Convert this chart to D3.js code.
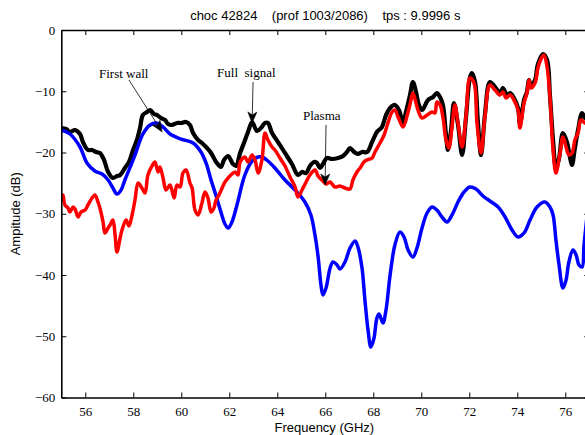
<!DOCTYPE html>
<html>
<head>
<meta charset="utf-8">
<script src="https://cdn.jsdelivr.net/npm/d3@7"></script>
<style>
  html, body { margin: 0; padding: 0; background: #fff; }
  svg { display: block; }
  .sans { font-family: "Liberation Sans", Arial, Helvetica, sans-serif; font-size: 13px; fill: #000; }
  .serif { font-family: "Liberation Serif", "Times New Roman", serif; font-size: 13px; fill: #000; }
</style>
</head>
<body>
<svg id="chart" width="585" height="435"></svg>
<script>
// Tick values
const freqTicks = [56, 58, 60, 62, 64, 66, 68, 70, 72, 74, 76];
const ampTicks = [0, -10, -20, -30, -40, -50, -60];

// First wall reflection (GHz, dB)
const wallFreq = [55.00,55.36,55.78,56.07,56.40,56.70,56.95,57.15,57.32,57.49,57.65,58.07,58.40,58.70,58.95,59.24,59.53,59.99,60.49,60.82,61.03,61.24,61.45,61.65,61.82,61.95,62.11,62.32,62.65,62.95,63.20,63.36,63.61,63.90,64.32,64.74,65.15,65.40,65.57,65.70,65.82,65.90,66.03,66.20,66.32,66.49,66.61,66.82,67.03,67.24,67.36,67.53,67.65,67.78,67.90,68.03,68.15,68.24,68.40,68.53,68.70,68.90,69.11,69.28,69.45,69.65,69.82,70.03,70.24,70.45,70.65,70.86,71.07,71.28,71.53,71.78,72.03,72.28,72.57,72.86,73.20,73.49,73.78,74.03,74.28,74.53,74.82,75.15,75.36,75.49,75.61,75.74,75.90,76.03,76.15,76.32,76.45,76.57,76.70,76.78,76.91];
const wallAmp = [-16.33,-16.98,-19.10,-21.71,-23.02,-23.51,-24.49,-25.80,-26.78,-26.12,-24.49,-20.41,-16.98,-15.51,-15.18,-15.84,-16.98,-17.80,-18.45,-19.92,-21.71,-24.49,-27.10,-29.71,-31.67,-32.33,-31.35,-28.57,-23.67,-21.39,-20.73,-20.73,-21.39,-22.53,-24.49,-26.12,-28.08,-30.20,-33.47,-37.00,-41.63,-43.27,-42.12,-38.86,-37.88,-38.37,-39.02,-37.88,-35.59,-34.45,-35.43,-38.86,-44.08,-48.98,-51.76,-50.29,-47.02,-46.37,-47.84,-45.71,-40.00,-35.10,-32.98,-33.80,-35.92,-37.06,-35.59,-32.33,-29.88,-28.90,-29.39,-30.53,-31.35,-30.20,-28.08,-26.45,-25.63,-25.96,-27.10,-27.92,-28.90,-30.53,-32.65,-33.80,-33.14,-31.02,-28.90,-28.08,-28.90,-30.20,-34.29,-38.37,-42.12,-40.82,-37.88,-35.92,-36.73,-38.37,-38.69,-35.10,-30.20];

// Full signal (GHz, dB)
const fullFreq = [55.00,55.20,55.36,55.57,55.78,55.90,56.11,56.28,56.45,56.61,56.78,56.95,57.15,57.32,57.45,57.65,57.82,57.99,58.15,58.28,58.40,58.57,58.70,58.86,58.99,59.15,59.32,59.45,59.61,59.82,59.99,60.20,60.36,60.49,60.70,60.86,61.07,61.24,61.45,61.65,61.78,61.95,62.15,62.28,62.45,62.61,62.78,62.95,63.15,63.32,63.49,63.61,63.78,64.03,64.32,64.61,64.86,65.03,65.20,65.36,65.53,65.65,65.78,65.90,66.07,66.28,66.53,66.74,66.90,67.03,67.20,67.36,67.53,67.74,67.95,68.15,68.36,68.53,68.70,68.90,69.07,69.24,69.36,69.53,69.65,69.78,69.90,70.03,70.28,70.49,70.65,70.78,70.90,71.03,71.11,71.24,71.36,71.53,71.70,71.86,72.03,72.11,72.24,72.36,72.49,72.65,72.86,73.07,73.28,73.40,73.57,73.70,73.86,74.03,74.11,74.28,74.40,74.49,74.57,74.74,74.86,75.07,75.24,75.36,75.49,75.61,75.74,75.90,76.07,76.20,76.28,76.40,76.53,76.70,76.82,76.95];
const fullAmp = [-16.00,-16.16,-16.65,-16.33,-16.98,-18.29,-19.59,-19.59,-19.92,-20.08,-21.22,-23.18,-24.16,-23.84,-23.67,-22.53,-21.55,-19.59,-17.96,-16.00,-13.88,-13.39,-13.06,-13.71,-13.88,-14.37,-14.69,-15.35,-15.51,-15.18,-15.18,-15.02,-15.51,-16.82,-17.96,-18.45,-19.27,-20.08,-21.55,-22.37,-21.22,-20.57,-21.88,-22.20,-20.08,-18.45,-16.65,-15.02,-16.49,-16.00,-15.18,-15.18,-16.82,-18.29,-20.08,-21.88,-23.67,-23.18,-23.35,-22.20,-21.55,-21.71,-22.53,-21.88,-20.90,-21.06,-20.90,-20.57,-19.92,-19.27,-19.92,-20.24,-19.92,-19.92,-18.29,-16.65,-15.84,-13.88,-12.73,-12.24,-13.06,-15.18,-13.39,-10.61,-8.49,-10.12,-12.24,-13.06,-11.43,-10.94,-10.29,-10.94,-12.24,-17.14,-19.59,-16.33,-11.92,-15.51,-20.41,-14.37,-7.67,-7.02,-8.49,-15.02,-20.41,-13.88,-8.49,-9.31,-10.29,-9.47,-10.61,-10.29,-11.10,-12.73,-15.35,-11.43,-10.12,-8.16,-9.14,-8.16,-5.55,-3.92,-4.90,-10.61,-17.96,-22.53,-20.90,-16.82,-18.29,-20.90,-22.04,-19.27,-16.33,-13.55,-14.37,-14.04];

// Plasma contribution (GHz, dB)
const plasmaFreq = [55.00,55.07,55.15,55.28,55.36,55.49,55.57,55.70,55.82,55.99,56.11,56.28,56.40,56.53,56.65,56.74,56.82,56.95,57.03,57.15,57.24,57.32,57.45,57.53,57.70,57.82,57.95,58.07,58.20,58.36,58.49,58.61,58.78,58.90,59.03,59.11,59.24,59.36,59.53,59.70,59.82,59.95,60.07,60.20,60.36,60.45,60.57,60.70,60.86,60.99,61.11,61.24,61.36,61.45,61.57,61.70,61.82,61.95,62.07,62.24,62.36,62.45,62.65,62.78,62.95,63.07,63.20,63.36,63.49,63.61,63.78,63.90,64.11,64.32,64.53,64.74,64.86,65.03,65.20,65.36,65.57,65.70,65.86,66.03,66.20,66.40,66.61,66.82,67.03,67.15,67.32,67.45,67.61,67.74,67.95,68.07,68.28,68.45,68.61,68.78,68.90,69.03,69.24,69.45,69.57,69.65,69.78,69.86,70.03,70.24,70.45,70.57,70.65,70.78,70.90,71.03,71.15,71.28,71.40,71.53,71.70,71.86,72.03,72.20,72.32,72.49,72.65,72.86,73.07,73.28,73.40,73.53,73.70,73.86,74.03,74.11,74.28,74.40,74.49,74.57,74.74,74.86,75.03,75.11,75.24,75.36,75.49,75.61,75.78,75.90,76.03,76.15,76.28,76.40,76.53,76.65,76.82,76.95];
const plasmaAmp = [-27.76,-26.94,-28.57,-29.06,-29.71,-28.90,-29.22,-30.53,-29.71,-29.39,-28.57,-27.43,-26.94,-28.08,-29.71,-31.35,-33.14,-32.33,-31.84,-31.02,-33.47,-36.24,-33.96,-32.65,-31.02,-32.00,-30.20,-27.76,-24.98,-25.80,-26.61,-23.67,-22.20,-21.55,-23.18,-22.37,-24.16,-26.12,-25.31,-27.43,-25.31,-25.63,-23.35,-22.86,-24.98,-25.80,-29.39,-30.20,-28.24,-26.45,-27.43,-29.71,-29.06,-27.76,-26.94,-25.80,-24.82,-24.16,-23.67,-23.18,-23.67,-21.55,-20.73,-21.55,-20.41,-21.22,-23.35,-21.22,-16.82,-17.96,-19.10,-19.59,-20.90,-22.20,-24.00,-25.63,-27.27,-26.12,-24.82,-23.67,-22.86,-23.84,-24.49,-25.14,-24.82,-25.63,-25.47,-25.80,-25.96,-24.49,-23.18,-22.53,-21.55,-21.22,-20.90,-19.92,-18.45,-17.14,-15.18,-13.39,-13.06,-14.20,-15.84,-13.39,-11.43,-10.29,-11.92,-13.06,-14.37,-13.88,-13.39,-13.55,-11.76,-12.24,-14.20,-17.96,-19.27,-15.84,-12.24,-15.18,-19.10,-14.20,-7.84,-8.65,-15.18,-20.08,-14.20,-8.98,-9.80,-10.61,-10.12,-11.10,-10.61,-11.43,-13.06,-16.00,-11.92,-10.29,-8.16,-9.47,-8.65,-6.20,-4.41,-4.08,-6.04,-10.94,-19.59,-23.35,-20.08,-17.47,-19.10,-20.41,-20.08,-17.96,-16.82,-14.69,-15.18,-15.51];

// Annotations: label, text anchor point, arrow start and arrow tip (GHz, dB)
const noteLabels = ["First wall", "Full  signal", "Plasma"];
const noteText = [[56.57, -7.84], [61.49, -7.67], [65.07, -14.69]];
const noteFrom = [[57.82, -8.16], [62.99, -8.49], [66.03, -15.51]];
const noteTo = [[59.20, -16.65], [62.95, -15.18], [65.99, -25.31]];

const titleText = "choc 42824    (prof 1003/2086)    tps : 9.9996 s";

const svg = d3.select("#chart");
const margin = { left: 61.3, top: 30, right: 589.3, bottom: 397.5 };

const x = d3.scaleLinear().domain([55, 77]).range([margin.left, margin.right]);
const y = d3.scaleLinear().domain([-60, 0]).range([margin.bottom, margin.top]);

svg.append("rect").attr("width", 585).attr("height", 435).attr("fill", "#fff");

// Curves, clipped to the axes box
svg.append("defs").append("clipPath").attr("id", "plotclip")
  .append("rect")
  .attr("x", margin.left).attr("y", margin.top)
  .attr("width", margin.right - margin.left).attr("height", margin.bottom - margin.top);

const plot = svg.append("g").attr("clip-path", "url(#plotclip)");

function drawSeries(fx, fy, color, width) {
  const pts = fx.map((f, i) => [f, fy[i]]);
  const line = d3.line().x(d => x(d[0])).y(d => y(d[1])).curve(d3.curveCatmullRom.alpha(0.5));
  plot.append("path")
    .attr("d", line(pts))
    .attr("fill", "none")
    .attr("stroke", color)
    .attr("stroke-width", width)
    .attr("stroke-linejoin", "round")
    .attr("stroke-linecap", "round");
}

drawSeries(fullFreq, fullAmp, "#000", 4.2);
drawSeries(wallFreq, wallAmp, "#0000ff", 3.5);
drawSeries(plasmaFreq, plasmaAmp, "#ff0000", 3.5);

// Axes with inward ticks on all four sides
const fmt = d => (d < 0 ? "\u2212" + Math.abs(d) : String(d));

const gBottom = svg.append("g").attr("transform", `translate(0,${margin.bottom})`)
  .call(d3.axisBottom(x).tickValues(freqTicks).tickSizeInner(-5).tickSizeOuter(0).tickPadding(9).tickFormat(fmt));
const gTop = svg.append("g").attr("transform", `translate(0,${margin.top})`)
  .call(d3.axisTop(x).tickValues(freqTicks).tickSizeInner(-5).tickSizeOuter(0).tickFormat(""));
const gLeft = svg.append("g").attr("transform", `translate(${margin.left},0)`)
  .call(d3.axisLeft(y).tickValues(ampTicks).tickSizeInner(-5).tickSizeOuter(0).tickPadding(6).tickFormat(fmt));
const gRight = svg.append("g").attr("transform", `translate(${margin.right},0)`)
  .call(d3.axisRight(y).tickValues(ampTicks).tickSizeInner(-5).tickSizeOuter(0).tickFormat(""));

[gBottom, gTop, gLeft, gRight].forEach(g => {
  g.select(".domain").attr("stroke", "#000").attr("stroke-width", 1.6);
  g.selectAll(".tick line").attr("stroke", "#000").attr("stroke-width", 1);
  g.selectAll(".tick text")
    .attr("fill", "#000")
    .style("font-family", "'Liberation Serif', 'Times New Roman', serif")
    .style("font-size", "13px");
});

// Title and axis labels
svg.append("text").attr("class", "sans")
  .attr("x", (margin.left + margin.right) / 2).attr("y", 19.5)
  .attr("text-anchor", "middle")
  .style("white-space", "pre")
  .text(titleText);

svg.append("text").attr("class", "sans")
  .attr("x", (margin.left + margin.right) / 2 - 1).attr("y", 432)
  .attr("text-anchor", "middle")
  .text("Frequency (GHz)");

svg.append("text").attr("class", "sans")
  .attr("transform", `translate(19.5,${(margin.top + margin.bottom) / 2}) rotate(-90)`)
  .attr("text-anchor", "middle")
  .text("Ampitude (dB)");

// Annotation labels and arrows
const notes = svg.append("g");
noteLabels.forEach((label, i) => {
  notes.append("text").attr("class", "serif")
    .attr("x", x(noteText[i][0])).attr("y", y(noteText[i][1]))
    .style("white-space", "pre")
    .text(label);

  const x0 = x(noteFrom[i][0]), y0 = y(noteFrom[i][1]);
  const x1 = x(noteTo[i][0]), y1 = y(noteTo[i][1]);
  const ang = Math.atan2(y1 - y0, x1 - x0);
  const len = 11, half = 4.5, back = 8;
  const ux = Math.cos(ang), uy = Math.sin(ang);
  const px = -uy, py = ux;
  const bx = x1 - ux * len, by = y1 - uy * len;
  const nx = x1 - ux * back, ny = y1 - uy * back;

  notes.append("line")
    .attr("x1", x0).attr("y1", y0).attr("x2", nx).attr("y2", ny)
    .attr("stroke", "#000").attr("stroke-width", 0.8);

  notes.append("path")
    .attr("d", `M${x1},${y1} L${bx + px * half},${by + py * half} L${nx},${ny} L${bx - px * half},${by - py * half} Z`)
    .attr("fill", "#000").attr("stroke", "#000").attr("stroke-width", 0.6);
});
</script>
</body>
</html>
